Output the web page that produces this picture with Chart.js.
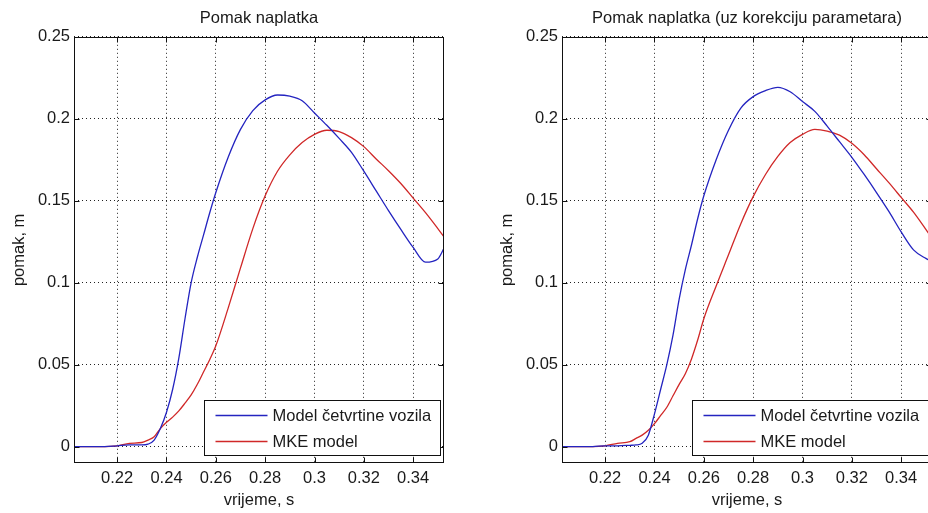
<!DOCTYPE html>
<html>
<head>
<meta charset="utf-8">
<script src="https://cdn.jsdelivr.net/npm/chart.js@4.4.1/dist/chart.umd.min.js"></script>
<style>
html, body { margin: 0; padding: 0; background: #fff; width: 928px; height: 513px; overflow: hidden; }
canvas { position: absolute; top: 0; }
#lijevo { left: 0; }
#desno { left: 488px; }
</style>
</head>
<body>
<canvas id="lijevo" width="464" height="513"></canvas>
<canvas id="desno" width="464" height="513"></canvas>
<script>
// vrijeme (s) i pomak naplatka (m), ocitano sa slike
const vrijeme = [0.2025, 0.21, 0.215, 0.22, 0.225, 0.23, 0.2325, 0.235, 0.2375, 0.24, 0.2425, 0.245, 0.2475, 0.25, 0.2525, 0.255, 0.2575, 0.26, 0.265, 0.27, 0.275, 0.28, 0.285, 0.29, 0.295, 0.3, 0.305, 0.31, 0.315, 0.32, 0.325, 0.33, 0.335, 0.34, 0.345, 0.35, 0.3525];

const lijevoModel = [0, 0, 0, 0.0005, 0.001, 0.001, 0.0015, 0.004, 0.011, 0.021, 0.035, 0.054, 0.078, 0.1, 0.1155, 0.129, 0.1425, 0.155, 0.1765, 0.1935, 0.205, 0.2115, 0.2145, 0.2138, 0.211, 0.2035, 0.196, 0.188, 0.1795, 0.168, 0.156, 0.144, 0.1325, 0.1215, 0.1125, 0.1145, 0.121];
const lijevoMKE = [0, 0, 0, 0.0005, 0.002, 0.0025, 0.004, 0.006, 0.011, 0.0148, 0.018, 0.0218, 0.0265, 0.0315, 0.038, 0.0455, 0.053, 0.0615, 0.0845, 0.109, 0.133, 0.153, 0.168, 0.178, 0.1855, 0.1905, 0.193, 0.1922, 0.1885, 0.183, 0.1755, 0.1683, 0.1605, 0.1516, 0.1427, 0.133, 0.128];

const desnoModel = [0, 0, 0, 0.0005, 0.0005, 0.0008, 0.001, 0.002, 0.007, 0.02, 0.035, 0.05, 0.068, 0.09, 0.108, 0.123, 0.139, 0.153, 0.175, 0.193, 0.2065, 0.2135, 0.2172, 0.2192, 0.2165, 0.2105, 0.2045, 0.1955, 0.186, 0.1765, 0.166, 0.155, 0.1435, 0.131, 0.12, 0.1148, 0.113];
const desnoMKE = [0, 0, 0, 0.0005, 0.002, 0.003, 0.005, 0.007, 0.01, 0.014, 0.019, 0.024, 0.031, 0.038, 0.0445, 0.0535, 0.065, 0.078, 0.098, 0.117, 0.136, 0.1525, 0.166, 0.177, 0.1855, 0.1905, 0.1935, 0.1925, 0.19, 0.185, 0.178, 0.1695, 0.161, 0.152, 0.143, 0.1325, 0.127];

const nazivi = ["Model četvrtine vozila", "MKE model"];
const xTicks = [0.22, 0.24, 0.26, 0.28, 0.3, 0.32, 0.34];
const yTicks = [0, 0.05, 0.1, 0.15, 0.2, 0.25];

Chart.defaults.font.family = "'Liberation Sans', Arial, sans-serif";
Chart.defaults.font.size = 16.5;
Chart.defaults.color = "#1a1a1a";

function broj(v){ return String(Math.round(v * 1000) / 1000); }

// okvir osi, unutarnje crtice i legenda u donjem desnom kutu
const okvir = {
  id: "okvir",
  afterDraw(chart){
    const {ctx, chartArea: a, scales: {x, y}} = chart;
    const L = Math.round(a.left) + 0.5, R = Math.round(a.right) - 0.5;
    const T = Math.round(a.top) + 0.5, B = Math.round(a.bottom) - 0.5;
    ctx.save();
    ctx.strokeStyle = "#111";
    ctx.lineWidth = 1;
    ctx.beginPath();
    xTicks.forEach(v => {
      const px = Math.round(x.getPixelForValue(v)) + 0.5;
      ctx.moveTo(px, B); ctx.lineTo(px, B - 5);
      ctx.moveTo(px, T); ctx.lineTo(px, T + 5);
    });
    yTicks.forEach(v => {
      const py = Math.round(y.getPixelForValue(v)) + 0.5;
      ctx.moveTo(L, py); ctx.lineTo(L + 5, py);
      ctx.moveTo(R, py); ctx.lineTo(R - 5, py);
    });
    ctx.stroke();
    ctx.strokeRect(L, T, R - L, B - T);

    const bx = Math.round(a.left) + 130.5, bw = 236;
    const by = Math.round(a.bottom) - 62.5, bh = 55;
    ctx.fillStyle = "#fff";
    ctx.fillRect(bx, by, bw, bh);
    ctx.strokeRect(bx, by, bw, bh);
    ctx.font = "16.5px 'Liberation Sans', Arial, sans-serif";
    ctx.textBaseline = "middle";
    chart.data.datasets.forEach((d, i) => {
      const ry = by + 15 + i * 26;
      ctx.strokeStyle = d.borderColor;
      ctx.lineWidth = 1.3;
      ctx.beginPath();
      ctx.moveTo(bx + 11, ry); ctx.lineTo(bx + 63, ry);
      ctx.stroke();
      ctx.fillStyle = "#1a1a1a";
      ctx.fillText(d.label, bx + 68, ry + 1);
    });
    ctx.restore();
  }
};

function nacrtaj(id, naslov, model, mke){
  return new Chart(document.getElementById(id), {
    type: "line",
    data: {
      labels: vrijeme,
      datasets: [
        {label: nazivi[0], data: vrijeme.map((t, i) => ({x: t, y: model[i]})), borderColor: "#2424c0", borderWidth: 1.3, pointRadius: 0, cubicInterpolationMode: "monotone"},
        {label: nazivi[1], data: vrijeme.map((t, i) => ({x: t, y: mke[i]})), borderColor: "#d02828", borderWidth: 1.3, pointRadius: 0, cubicInterpolationMode: "monotone"}
      ]
    },
    options: {
      responsive: false,
      animation: false,
      layout: {padding: {left: 0, right: 20, top: 0, bottom: 0}},
      plugins: {
        legend: {display: false},
        tooltip: {enabled: false},
        title: {display: true, text: naslov, fullSize: false, font: {size: 16.5, weight: "normal"}, padding: {top: 9, bottom: 8}}
      },
      scales: {
        x: {
          type: "linear", min: 0.2025, max: 0.3525,
          afterBuildTicks: s => { s.ticks = xTicks.map(v => ({value: v})); },
          afterFit: s => { s.height = 50; },
          ticks: {autoSkip: false, maxRotation: 0, padding: 6, callback: broj},
          grid: {color: "#222", drawTicks: false},
          border: {display: false, dash: [1, 3]},
          title: {display: true, text: "vrijeme, s", padding: {top: 0, bottom: 3}}
        },
        y: {
          type: "linear", min: -0.01, max: 0.25,
          afterBuildTicks: s => { s.ticks = yTicks.map(v => ({value: v})); },
          afterFit: s => { s.width = 74; },
          ticks: {autoSkip: false, padding: 4, callback: broj},
          grid: {color: "#222", drawTicks: false},
          border: {display: false, dash: [1, 3]},
          title: {display: true, text: "pomak, m", padding: {top: 10, bottom: 0}}
        }
      }
    },
    plugins: [okvir]
  });
}

nacrtaj("lijevo", "Pomak naplatka", lijevoModel, lijevoMKE);
nacrtaj("desno", "Pomak naplatka (uz korekciju parametara)", desnoModel, desnoMKE);
</script>
</body>
</html>
